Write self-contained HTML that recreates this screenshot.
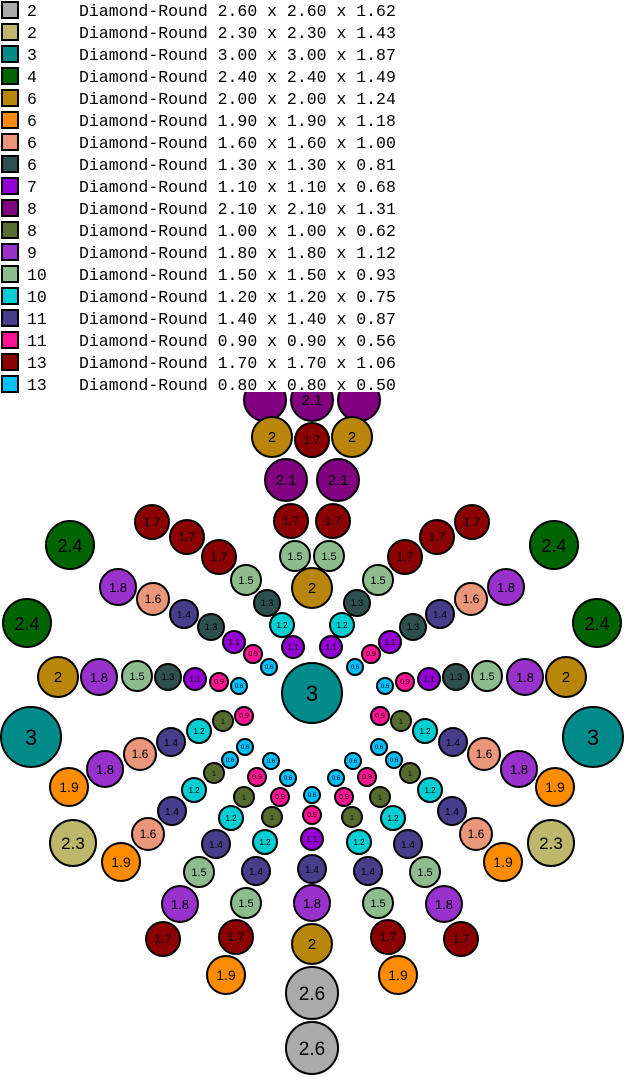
<!DOCTYPE html>
<html><head><meta charset="utf-8"><style>
html,body{margin:0;padding:0;background:#fff;}
svg{display:block;}
circle{stroke:#000;stroke-width:2;}
text.l{font-family:"Liberation Sans",sans-serif;text-anchor:middle;fill:#000;}
.lg{font-family:"Liberation Mono",monospace;font-size:16.5px;fill:#000;}
.gy{fill:#aaaaaa}.kh{fill:#bdb76b}.te{fill:#008b8b}.gr{fill:#006400}.go{fill:#b8860b}.or{fill:#ff8c00}
.sa{fill:#e9967a}.sl{fill:#2f4f4f}.vi{fill:#9400d3}.pu{fill:#800080}.ol{fill:#556b2f}.oc{fill:#9932cc}
.sg{fill:#8fbc8f}.tu{fill:#00ced1}.sb{fill:#483d8b}.pk{fill:#ff1493}.dr{fill:#8b0000}.sk{fill:#00bfff}
</style></head><body>
<svg id="s" width="626" height="1077" xmlns="http://www.w3.org/2000/svg">
<g id="c">
<!-- center column -->
<circle class="pu" cx="312" cy="400" r="21"/><text class="l" x="312" y="405" font-size="15">2.1</text>
<circle class="dr" cx="312" cy="440" r="17"/><text class="l" x="312" y="444" font-size="12">1.7</text>
<circle class="go" cx="312" cy="588" r="20"/><text class="l" x="312" y="593" font-size="15">2</text>
<circle class="te" cx="312" cy="693" r="30"/><text class="l" x="312" y="701" font-size="22">3</text>
<circle class="sk" cx="312" cy="795" r="8"/><text class="l" x="312" y="797" font-size="6">0.6</text>
<circle class="pk" cx="312" cy="815" r="9"/><text class="l" x="312" y="817" font-size="7">0.9</text>
<circle class="vi" cx="312" cy="839" r="11"/><text class="l" x="312" y="842" font-size="8">1.1</text>
<circle class="sb" cx="312" cy="869" r="14"/><text class="l" x="312" y="873" font-size="10">1.4</text>
<circle class="oc" cx="312" cy="903" r="18"/><text class="l" x="312" y="908" font-size="13">1.8</text>
<circle class="go" cx="312" cy="944" r="20"/><text class="l" x="312" y="949" font-size="15">2</text>
<circle class="gy" cx="312" cy="993" r="26"/><text class="l" x="312" y="1000" font-size="19">2.6</text>
<circle class="gy" cx="312" cy="1048" r="26"/><text class="l" x="312" y="1055" font-size="19">2.6</text>

<!-- LEFT -->
<circle class="pu" cx="265" cy="400" r="21"/>
<circle class="go" cx="272" cy="437" r="20"/><text class="l" x="272" y="442" font-size="15">2</text>
<circle class="pu" cx="286" cy="480" r="21"/><text class="l" x="286" y="485" font-size="15">2.1</text>
<circle class="dr" cx="291" cy="521" r="17"/><text class="l" x="291" y="525" font-size="12">1.7</text>
<circle class="sg" cx="295" cy="556" r="15"/><text class="l" x="295" y="560" font-size="11">1.5</text>
<circle class="dr" cx="152" cy="522" r="17"/><text class="l" x="152" y="526" font-size="12">1.7</text>
<circle class="dr" cx="187" cy="537" r="17"/><text class="l" x="187" y="541" font-size="12">1.7</text>
<circle class="dr" cx="219" cy="557" r="17"/><text class="l" x="219" y="561" font-size="12">1.7</text>
<circle class="sg" cx="246" cy="580" r="15"/><text class="l" x="246" y="584" font-size="11">1.5</text>
<circle class="sl" cx="267" cy="603" r="13"/><text class="l" x="267" y="606" font-size="9">1.3</text>
<circle class="tu" cx="282" cy="625" r="12"/><text class="l" x="282" y="628" font-size="8">1.2</text>
<circle class="vi" cx="293" cy="647" r="11"/><text class="l" x="293" y="650" font-size="8">1.1</text>
<circle class="oc" cx="118" cy="587" r="18"/><text class="l" x="118" y="592" font-size="13">1.8</text>
<circle class="sa" cx="153" cy="599" r="16"/><text class="l" x="153" y="603" font-size="12">1.6</text>
<circle class="sb" cx="184" cy="614" r="14"/><text class="l" x="184" y="618" font-size="10">1.4</text>
<circle class="sl" cx="211" cy="627" r="13"/><text class="l" x="211" y="630" font-size="9">1.3</text>
<circle class="vi" cx="234" cy="642" r="11"/><text class="l" x="234" y="645" font-size="8">1.1</text>
<circle class="pk" cx="253" cy="654" r="9"/><text class="l" x="253" y="656" font-size="7">0.9</text>
<circle class="sk" cx="269" cy="667" r="8"/><text class="l" x="269" y="669" font-size="6">0.6</text>
<circle class="gr" cx="70" cy="545" r="24"/><text class="l" x="70" y="552" font-size="18">2.4</text>
<circle class="gr" cx="27" cy="623" r="24"/><text class="l" x="27" y="630" font-size="18">2.4</text>
<circle class="go" cx="58" cy="677" r="20"/><text class="l" x="58" y="682" font-size="15">2</text>
<circle class="oc" cx="99" cy="677" r="18"/><text class="l" x="99" y="682" font-size="13">1.8</text>
<circle class="sg" cx="137" cy="676" r="15"/><text class="l" x="137" y="680" font-size="11">1.5</text>
<circle class="sl" cx="168" cy="677" r="13"/><text class="l" x="168" y="680" font-size="9">1.3</text>
<circle class="vi" cx="195" cy="679" r="11"/><text class="l" x="195" y="682" font-size="8">1.1</text>
<circle class="pk" cx="219" cy="682" r="9"/><text class="l" x="219" y="684" font-size="7">0.9</text>
<circle class="sk" cx="239" cy="686" r="8"/><text class="l" x="239" y="688" font-size="6">0.6</text>
<circle class="te" cx="31" cy="737" r="30"/><text class="l" x="31" y="745" font-size="22">3</text>
<circle class="or" cx="69" cy="787" r="19"/><text class="l" x="69" y="792" font-size="14">1.9</text>
<circle class="oc" cx="105" cy="769" r="18"/><text class="l" x="105" y="774" font-size="13">1.8</text>
<circle class="sa" cx="140" cy="754" r="16"/><text class="l" x="140" y="758" font-size="12">1.6</text>
<circle class="sb" cx="171" cy="742" r="14"/><text class="l" x="171" y="746" font-size="10">1.4</text>
<circle class="tu" cx="199" cy="731" r="12"/><text class="l" x="199" y="734" font-size="8">1.2</text>
<circle class="ol" cx="223" cy="721" r="10"/><text class="l" x="223" y="724" font-size="7">1</text>
<circle class="pk" cx="244" cy="716" r="9"/><text class="l" x="244" y="718" font-size="7">0.9</text>
<circle class="kh" cx="73" cy="843" r="23"/><text class="l" x="73" y="849" font-size="17">2.3</text>
<circle class="or" cx="121" cy="862" r="19"/><text class="l" x="121" y="867" font-size="14">1.9</text>
<circle class="sa" cx="148" cy="834" r="16"/><text class="l" x="148" y="838" font-size="12">1.6</text>
<circle class="sb" cx="172" cy="811" r="14"/><text class="l" x="172" y="815" font-size="10">1.4</text>
<circle class="tu" cx="194" cy="790" r="12"/><text class="l" x="194" y="793" font-size="8">1.2</text>
<circle class="ol" cx="214" cy="773" r="10"/><text class="l" x="214" y="776" font-size="7">1</text>
<circle class="sk" cx="230" cy="760" r="8"/><text class="l" x="230" y="762" font-size="6">0.6</text>
<circle class="sk" cx="245" cy="747" r="8"/><text class="l" x="245" y="749" font-size="6">0.6</text>
<circle class="dr" cx="163" cy="939" r="17"/><text class="l" x="163" y="943" font-size="12">1.7</text>
<circle class="oc" cx="180" cy="904" r="18"/><text class="l" x="180" y="909" font-size="13">1.8</text>
<circle class="sg" cx="199" cy="872" r="15"/><text class="l" x="199" y="876" font-size="11">1.5</text>
<circle class="sb" cx="216" cy="844" r="14"/><text class="l" x="216" y="848" font-size="10">1.4</text>
<circle class="tu" cx="231" cy="818" r="12"/><text class="l" x="231" y="821" font-size="8">1.2</text>
<circle class="ol" cx="244" cy="797" r="10"/><text class="l" x="244" y="800" font-size="7">1</text>
<circle class="pk" cx="257" cy="777" r="9"/><text class="l" x="257" y="779" font-size="7">0.9</text>
<circle class="sk" cx="271" cy="761" r="8"/><text class="l" x="271" y="763" font-size="6">0.6</text>
<circle class="or" cx="226" cy="975" r="19"/><text class="l" x="226" y="980" font-size="14">1.9</text>
<circle class="dr" cx="236" cy="937" r="17"/><text class="l" x="236" y="941" font-size="12">1.7</text>
<circle class="sg" cx="246" cy="903" r="15"/><text class="l" x="246" y="907" font-size="11">1.5</text>
<circle class="sb" cx="256" cy="871" r="14"/><text class="l" x="256" y="875" font-size="10">1.4</text>
<circle class="tu" cx="265" cy="842" r="12"/><text class="l" x="265" y="845" font-size="8">1.2</text>
<circle class="ol" cx="272" cy="817" r="10"/><text class="l" x="272" y="820" font-size="7">1</text>
<circle class="pk" cx="280" cy="797" r="9"/><text class="l" x="280" y="799" font-size="7">0.9</text>
<circle class="sk" cx="288" cy="778" r="8"/><text class="l" x="288" y="780" font-size="6">0.6</text>

<!-- RIGHT (mirror x'=624-x) -->
<circle class="pu" cx="359" cy="400" r="21"/>
<circle class="go" cx="352" cy="437" r="20"/><text class="l" x="352" y="442" font-size="15">2</text>
<circle class="pu" cx="338" cy="480" r="21"/><text class="l" x="338" y="485" font-size="15">2.1</text>
<circle class="dr" cx="333" cy="521" r="17"/><text class="l" x="333" y="525" font-size="12">1.7</text>
<circle class="sg" cx="329" cy="556" r="15"/><text class="l" x="329" y="560" font-size="11">1.5</text>
<circle class="dr" cx="472" cy="522" r="17"/><text class="l" x="472" y="526" font-size="12">1.7</text>
<circle class="dr" cx="437" cy="537" r="17"/><text class="l" x="437" y="541" font-size="12">1.7</text>
<circle class="dr" cx="405" cy="557" r="17"/><text class="l" x="405" y="561" font-size="12">1.7</text>
<circle class="sg" cx="378" cy="580" r="15"/><text class="l" x="378" y="584" font-size="11">1.5</text>
<circle class="sl" cx="357" cy="603" r="13"/><text class="l" x="357" y="606" font-size="9">1.3</text>
<circle class="tu" cx="342" cy="625" r="12"/><text class="l" x="342" y="628" font-size="8">1.2</text>
<circle class="vi" cx="331" cy="647" r="11"/><text class="l" x="331" y="650" font-size="8">1.1</text>
<circle class="oc" cx="506" cy="587" r="18"/><text class="l" x="506" y="592" font-size="13">1.8</text>
<circle class="sa" cx="471" cy="599" r="16"/><text class="l" x="471" y="603" font-size="12">1.6</text>
<circle class="sb" cx="440" cy="614" r="14"/><text class="l" x="440" y="618" font-size="10">1.4</text>
<circle class="sl" cx="413" cy="627" r="13"/><text class="l" x="413" y="630" font-size="9">1.3</text>
<circle class="vi" cx="390" cy="642" r="11"/><text class="l" x="390" y="645" font-size="8">1.1</text>
<circle class="pk" cx="371" cy="654" r="9"/><text class="l" x="371" y="656" font-size="7">0.9</text>
<circle class="sk" cx="355" cy="667" r="8"/><text class="l" x="355" y="669" font-size="6">0.6</text>
<circle class="gr" cx="554" cy="545" r="24"/><text class="l" x="554" y="552" font-size="18">2.4</text>
<circle class="gr" cx="597" cy="623" r="24"/><text class="l" x="597" y="630" font-size="18">2.4</text>
<circle class="go" cx="566" cy="677" r="20"/><text class="l" x="566" y="682" font-size="15">2</text>
<circle class="oc" cx="525" cy="677" r="18"/><text class="l" x="525" y="682" font-size="13">1.8</text>
<circle class="sg" cx="487" cy="676" r="15"/><text class="l" x="487" y="680" font-size="11">1.5</text>
<circle class="sl" cx="456" cy="677" r="13"/><text class="l" x="456" y="680" font-size="9">1.3</text>
<circle class="vi" cx="429" cy="679" r="11"/><text class="l" x="429" y="682" font-size="8">1.1</text>
<circle class="pk" cx="405" cy="682" r="9"/><text class="l" x="405" y="684" font-size="7">0.9</text>
<circle class="sk" cx="385" cy="686" r="8"/><text class="l" x="385" y="688" font-size="6">0.6</text>
<circle class="te" cx="593" cy="737" r="30"/><text class="l" x="593" y="745" font-size="22">3</text>
<circle class="or" cx="555" cy="787" r="19"/><text class="l" x="555" y="792" font-size="14">1.9</text>
<circle class="oc" cx="519" cy="769" r="18"/><text class="l" x="519" y="774" font-size="13">1.8</text>
<circle class="sa" cx="484" cy="754" r="16"/><text class="l" x="484" y="758" font-size="12">1.6</text>
<circle class="sb" cx="453" cy="742" r="14"/><text class="l" x="453" y="746" font-size="10">1.4</text>
<circle class="tu" cx="425" cy="731" r="12"/><text class="l" x="425" y="734" font-size="8">1.2</text>
<circle class="ol" cx="401" cy="721" r="10"/><text class="l" x="401" y="724" font-size="7">1</text>
<circle class="pk" cx="380" cy="716" r="9"/><text class="l" x="380" y="718" font-size="7">0.9</text>
<circle class="kh" cx="551" cy="843" r="23"/><text class="l" x="551" y="849" font-size="17">2.3</text>
<circle class="or" cx="503" cy="862" r="19"/><text class="l" x="503" y="867" font-size="14">1.9</text>
<circle class="sa" cx="476" cy="834" r="16"/><text class="l" x="476" y="838" font-size="12">1.6</text>
<circle class="sb" cx="452" cy="811" r="14"/><text class="l" x="452" y="815" font-size="10">1.4</text>
<circle class="tu" cx="430" cy="790" r="12"/><text class="l" x="430" y="793" font-size="8">1.2</text>
<circle class="ol" cx="410" cy="773" r="10"/><text class="l" x="410" y="776" font-size="7">1</text>
<circle class="sk" cx="394" cy="760" r="8"/><text class="l" x="394" y="762" font-size="6">0.6</text>
<circle class="sk" cx="379" cy="747" r="8"/><text class="l" x="379" y="749" font-size="6">0.6</text>
<circle class="dr" cx="461" cy="939" r="17"/><text class="l" x="461" y="943" font-size="12">1.7</text>
<circle class="oc" cx="444" cy="904" r="18"/><text class="l" x="444" y="909" font-size="13">1.8</text>
<circle class="sg" cx="425" cy="872" r="15"/><text class="l" x="425" y="876" font-size="11">1.5</text>
<circle class="sb" cx="408" cy="844" r="14"/><text class="l" x="408" y="848" font-size="10">1.4</text>
<circle class="tu" cx="393" cy="818" r="12"/><text class="l" x="393" y="821" font-size="8">1.2</text>
<circle class="ol" cx="380" cy="797" r="10"/><text class="l" x="380" y="800" font-size="7">1</text>
<circle class="pk" cx="367" cy="777" r="9"/><text class="l" x="367" y="779" font-size="7">0.9</text>
<circle class="sk" cx="353" cy="761" r="8"/><text class="l" x="353" y="763" font-size="6">0.6</text>
<circle class="or" cx="398" cy="975" r="19"/><text class="l" x="398" y="980" font-size="14">1.9</text>
<circle class="dr" cx="388" cy="937" r="17"/><text class="l" x="388" y="941" font-size="12">1.7</text>
<circle class="sg" cx="378" cy="903" r="15"/><text class="l" x="378" y="907" font-size="11">1.5</text>
<circle class="sb" cx="368" cy="871" r="14"/><text class="l" x="368" y="875" font-size="10">1.4</text>
<circle class="tu" cx="359" cy="842" r="12"/><text class="l" x="359" y="845" font-size="8">1.2</text>
<circle class="ol" cx="352" cy="817" r="10"/><text class="l" x="352" y="820" font-size="7">1</text>
<circle class="pk" cx="344" cy="797" r="9"/><text class="l" x="344" y="799" font-size="7">0.9</text>
<circle class="sk" cx="336" cy="778" r="8"/><text class="l" x="336" y="780" font-size="6">0.6</text>
</g>

<!-- legend -->
<rect x="0" y="0" width="400" height="392" fill="#fff"/>
<g class="lg">
<rect class="gy" x="2" y="2" width="16" height="16" stroke="#000" stroke-width="2"/><text x="27" y="16">2</text><text x="79" y="16">Diamond-Round 2.60 x 2.60 x 1.62</text>
<rect class="kh" x="2" y="24" width="16" height="16" stroke="#000" stroke-width="2"/><text x="27" y="38">2</text><text x="79" y="38">Diamond-Round 2.30 x 2.30 x 1.43</text>
<rect class="te" x="2" y="46" width="16" height="16" stroke="#000" stroke-width="2"/><text x="27" y="60">3</text><text x="79" y="60">Diamond-Round 3.00 x 3.00 x 1.87</text>
<rect class="gr" x="2" y="68" width="16" height="16" stroke="#000" stroke-width="2"/><text x="27" y="82">4</text><text x="79" y="82">Diamond-Round 2.40 x 2.40 x 1.49</text>
<rect class="go" x="2" y="90" width="16" height="16" stroke="#000" stroke-width="2"/><text x="27" y="104">6</text><text x="79" y="104">Diamond-Round 2.00 x 2.00 x 1.24</text>
<rect class="or" x="2" y="112" width="16" height="16" stroke="#000" stroke-width="2"/><text x="27" y="126">6</text><text x="79" y="126">Diamond-Round 1.90 x 1.90 x 1.18</text>
<rect class="sa" x="2" y="134" width="16" height="16" stroke="#000" stroke-width="2"/><text x="27" y="148">6</text><text x="79" y="148">Diamond-Round 1.60 x 1.60 x 1.00</text>
<rect class="sl" x="2" y="156" width="16" height="16" stroke="#000" stroke-width="2"/><text x="27" y="170">6</text><text x="79" y="170">Diamond-Round 1.30 x 1.30 x 0.81</text>
<rect class="vi" x="2" y="178" width="16" height="16" stroke="#000" stroke-width="2"/><text x="27" y="192">7</text><text x="79" y="192">Diamond-Round 1.10 x 1.10 x 0.68</text>
<rect class="pu" x="2" y="200" width="16" height="16" stroke="#000" stroke-width="2"/><text x="27" y="214">8</text><text x="79" y="214">Diamond-Round 2.10 x 2.10 x 1.31</text>
<rect class="ol" x="2" y="222" width="16" height="16" stroke="#000" stroke-width="2"/><text x="27" y="236">8</text><text x="79" y="236">Diamond-Round 1.00 x 1.00 x 0.62</text>
<rect class="oc" x="2" y="244" width="16" height="16" stroke="#000" stroke-width="2"/><text x="27" y="258">9</text><text x="79" y="258">Diamond-Round 1.80 x 1.80 x 1.12</text>
<rect class="sg" x="2" y="266" width="16" height="16" stroke="#000" stroke-width="2"/><text x="27" y="280">10</text><text x="79" y="280">Diamond-Round 1.50 x 1.50 x 0.93</text>
<rect class="tu" x="2" y="288" width="16" height="16" stroke="#000" stroke-width="2"/><text x="27" y="302">10</text><text x="79" y="302">Diamond-Round 1.20 x 1.20 x 0.75</text>
<rect class="sb" x="2" y="310" width="16" height="16" stroke="#000" stroke-width="2"/><text x="27" y="324">11</text><text x="79" y="324">Diamond-Round 1.40 x 1.40 x 0.87</text>
<rect class="pk" x="2" y="332" width="16" height="16" stroke="#000" stroke-width="2"/><text x="27" y="346">11</text><text x="79" y="346">Diamond-Round 0.90 x 0.90 x 0.56</text>
<rect class="dr" x="2" y="354" width="16" height="16" stroke="#000" stroke-width="2"/><text x="27" y="368">13</text><text x="79" y="368">Diamond-Round 1.70 x 1.70 x 1.06</text>
<rect class="sk" x="2" y="376" width="16" height="16" stroke="#000" stroke-width="2"/><text x="27" y="390">13</text><text x="79" y="390">Diamond-Round 0.80 x 0.80 x 0.50</text>
</g>
</svg>
</body></html>
